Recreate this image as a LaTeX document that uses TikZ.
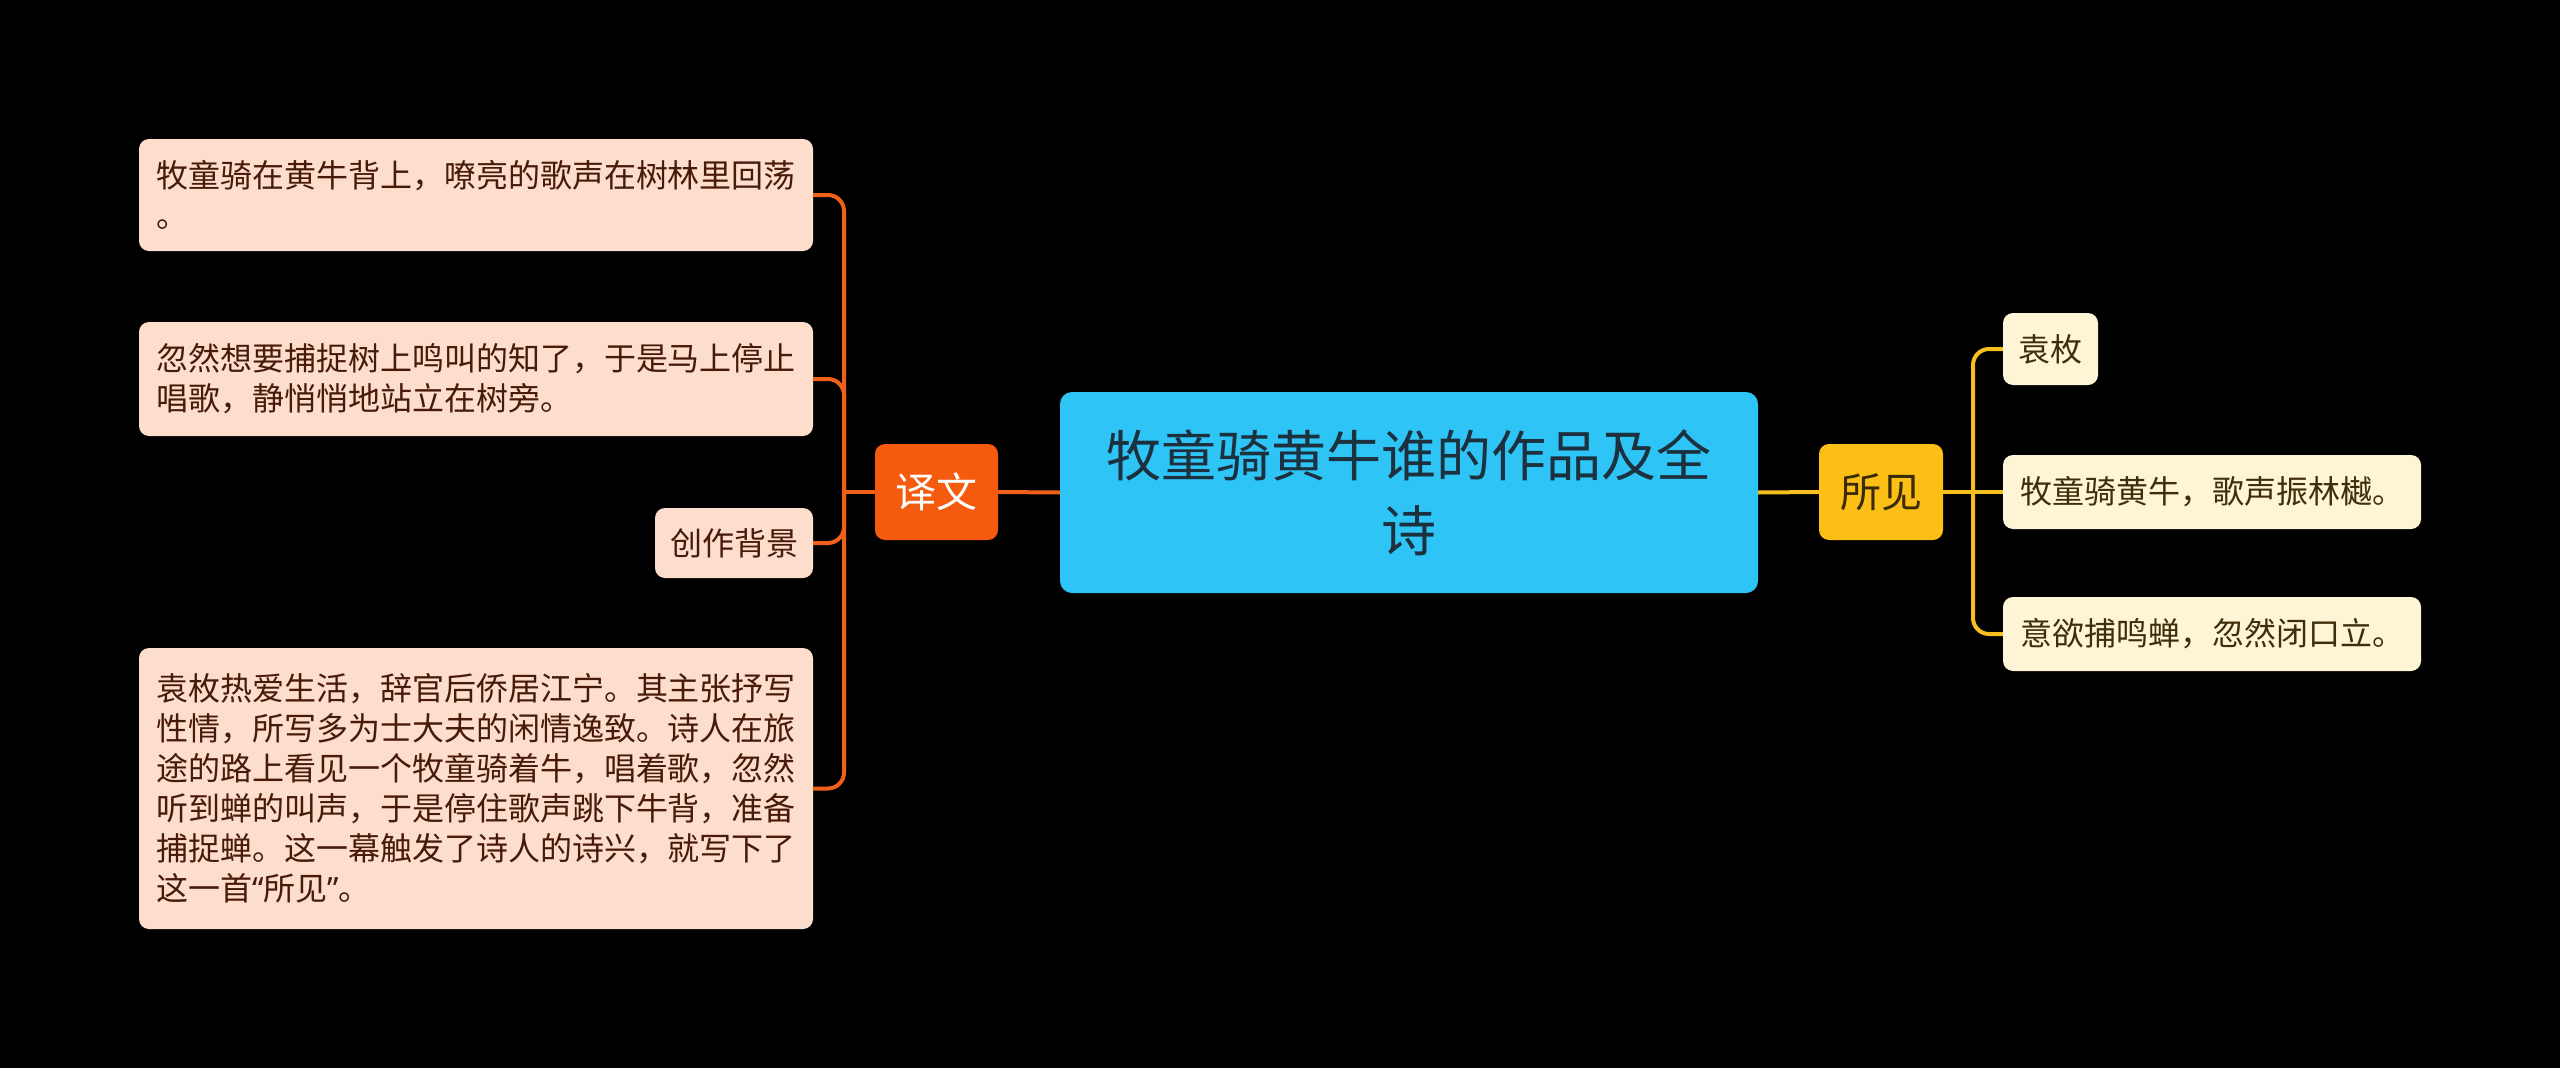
\documentclass[tikz,border=0pt]{standalone}
\usepackage{fontspec}
\setmainfont{Noto Sans CJK SC}
\newfontfamily\latinq{Noto Sans}
\definecolor{bgc}{RGB}{0,0,0}
\definecolor{centerfill}{RGB}{46,196,245}
\definecolor{centertext}{RGB}{28,48,62}
\definecolor{orangefill}{RGB}{245,91,14}
\definecolor{orangeline}{RGB}{240,96,26}
\definecolor{yellowfill}{RGB}{252,191,22}
\definecolor{yellowline}{RGB}{246,190,30}
\definecolor{yellowtext}{RGB}{58,42,6}
\definecolor{leafLfill}{RGB}{253,221,204}
\definecolor{leafLtext}{RGB}{72,26,10}
\definecolor{leafRfill}{RGB}{254,244,214}
\definecolor{leafRtext}{RGB}{62,46,10}
\begin{document}
\begin{tikzpicture}[x=1pt,y=-1pt,
  leafL/.style={rounded corners=10pt, fill=leafLfill, text=leafLtext, align=left,
    inner xsep=16pt, inner ysep=0pt, font=\fontsize{32}{40}\selectfont},
  leafR/.style={rounded corners=10pt, fill=leafRfill, text=leafRtext, align=left,
    inner xsep=16pt, inner ysep=0pt, font=\fontsize{32}{40}\selectfont},
  mainbox/.style={rounded corners=12pt, fill=centerfill, text=centertext, align=center,
    inner sep=0pt, font=\fontsize{55}{75}\selectfont},
  yiwenbox/.style={rounded corners=10pt, fill=orangefill, text=white,
    inner sep=0pt, font=\fontsize{41}{50}\selectfont},
  suojianbox/.style={rounded corners=10pt, fill=yellowfill, text=yellowtext,
    inner sep=0pt, font=\fontsize{41}{50}\selectfont},
  oline/.style={draw=orangeline, line width=4pt},
  yline/.style={draw=yellowline, line width=4pt}]
\fill[bgc] (0,0) rectangle (2560,1068);
\useasboundingbox (0,0) rectangle (2560,1068);

% nodes
\node[mainbox, minimum width=698pt, minimum height=201pt] (c) at (1409,492.5)
  {牧童骑黄牛谁的作品及全\\诗};
\node[yiwenbox, minimum width=123pt, minimum height=96pt] (yw) at (936.5,492) {译文};
\node[suojianbox, minimum width=124pt, minimum height=96pt] (sj) at (1881,492) {所见};

\node[leafL, minimum width=674pt, minimum height=112pt] (l1) at (476,195)
  {牧童骑在黄牛背上，嘹亮的歌声在树林里回荡\\。};
\node[leafL, minimum width=674pt, minimum height=114pt] (l2) at (476,379)
  {忽然想要捕捉树上鸣叫的知了，于是马上停止\\唱歌，静悄悄地站立在树旁。};
\node[leafL, minimum width=158pt, minimum height=70pt, inner xsep=15pt] (l3) at (734,543)
  {创作背景};
\node[leafL, minimum width=674pt, minimum height=281pt] (l4) at (476,788.5)
  {袁枚热爱生活，辞官后侨居江宁。其主张抒写\\
   性情，所写多为士大夫的闲情逸致。诗人在旅\\
   途的路上看见一个牧童骑着牛，唱着歌，忽然\\
   听到蝉的叫声，于是停住歌声跳下牛背，准备\\
   捕捉蝉。这一幕触发了诗人的诗兴，就写下了\\
   这一首{\latinq “}所见{\latinq ”}。};

\node[leafR, minimum width=95pt, minimum height=72pt, inner xsep=15pt] (r1) at (2050.5,349) {袁枚};
\node[leafR, minimum width=418pt, minimum height=74pt] (r2) at (2212,492) {牧童骑黄牛，歌声振林樾。};
\node[leafR, minimum width=418pt, minimum height=74pt] (r3) at (2212,634) {意欲捕鸣蝉，忽然闭口立。};

% connectors
\coordinate (tl) at (844,492);
\coordinate (tr) at (1973,492);
\draw[oline] (c.west) -- (yw.east);
\draw[oline] (yw.west) -- (tl);
\draw[oline, rounded corners=16pt] (tl) |- (l1.east);
\draw[oline, rounded corners=16pt] (tl) |- (l2.east);
\draw[oline, rounded corners=16pt] (tl) |- (l3.east);
\draw[oline, rounded corners=16pt] (tl) |- (l4.east);

\draw[yline] (c.east) -- (sj.west);
\draw[yline] (sj.east) -- (tr);
\draw[yline] (tr) -- (r2.west);
\draw[yline, rounded corners=16pt] (tr) |- (r1.west);
\draw[yline, rounded corners=16pt] (tr) |- (r3.west);
\end{tikzpicture}
\end{document}
